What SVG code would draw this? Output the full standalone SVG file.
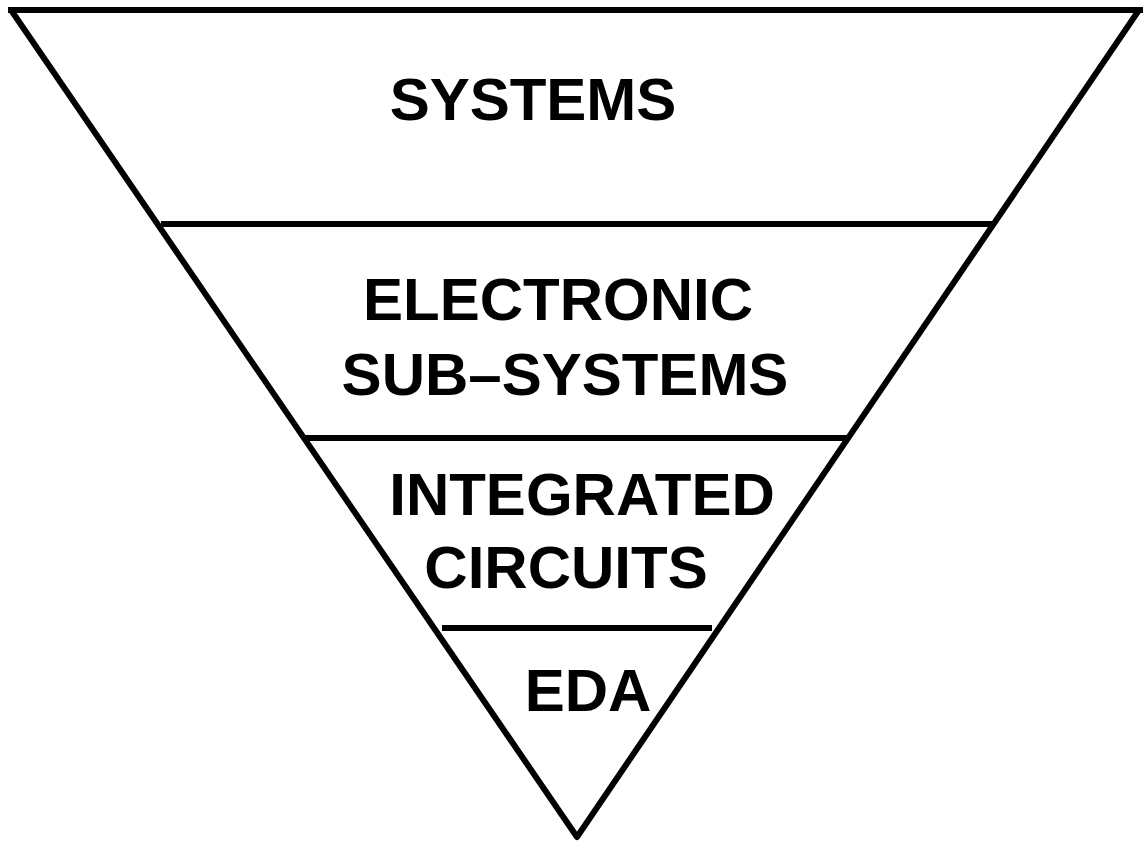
<svg xmlns="http://www.w3.org/2000/svg" width="1144" height="844" viewBox="0 0 1144 844">
<style>
.ln{stroke:#000;stroke-width:6;fill:none}
.t{font-family:"Liberation Sans",Arial,sans-serif;font-weight:bold;font-size:60px;fill:#000;text-anchor:middle}
</style>
<rect width="1144" height="844" fill="#fff"/>
<g id="connectors">
<line class="ln" x1="8" y1="10" x2="1143" y2="10"/>
<polyline class="ln" stroke-linejoin="round" points="11,10 577,837 1139,10"/>
<line class="ln" x1="161" y1="224" x2="994" y2="224"/>
<line class="ln" x1="305" y1="438" x2="847" y2="438"/>
<line class="ln" x1="442" y1="628" x2="712" y2="628"/>
</g>
<g id="systems"><text class="t" x="533" y="120">SYSTEMS</text></g>
<g id="subsystems"><text class="t" x="558" y="320">ELECTRONIC</text><text class="t" x="565" y="395">SUB–SYSTEMS</text></g>
<g id="ics"><text class="t" x="582" y="515">INTEGRATED</text><text class="t" x="566" y="588">CIRCUITS</text></g>
<g id="eda"><text class="t" x="588" y="711">EDA</text></g>
</svg>
